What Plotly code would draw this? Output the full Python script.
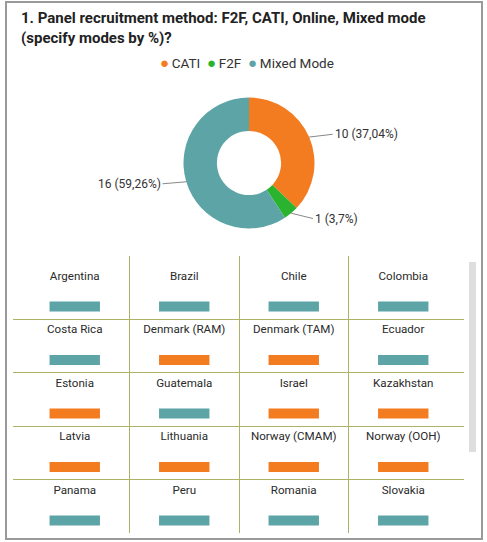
import math
import plotly.graph_objects as go

# ---------------- data ----------------
modes = ["CATI", "F2F", "Mixed Mode"]
mode_counts = [10, 1, 16]
mode_colors = ["#F47C20", "#2AB32E", "#5DA4A6"]

countries = [
    "Argentina", "Brazil", "Chile", "Colombia",
    "Costa Rica", "Denmark (RAM)", "Denmark (TAM)", "Ecuador",
    "Estonia", "Guatemala", "Israel", "Kazakhstan",
    "Latvia", "Lithuania", "Norway (CMAM)", "Norway (OOH)",
    "Panama", "Peru", "Romania", "Slovakia",
]
country_modes = [
    "Mixed Mode", "Mixed Mode", "Mixed Mode", "Mixed Mode",
    "Mixed Mode", "CATI", "CATI", "Mixed Mode",
    "CATI", "Mixed Mode", "CATI", "CATI",
    "CATI", "CATI", "CATI", "CATI",
    "Mixed Mode", "Mixed Mode", "Mixed Mode", "Mixed Mode",
]

title_text = "1. Panel recruitment method: F2F, CATI, Online, Mixed mode<br>(specify modes by %)?"

W, H = 487, 542
FONT = "Roboto"
TXT = "#333333"
GRID = "#AEB266"
n_cols = 4

fig = go.Figure()

# ---------------- donut ----------------
cx, cy, R = 249, 163, 65.5
fig.add_trace(go.Pie(
    labels=modes, values=mode_counts, hole=0.49, sort=False, direction="clockwise",
    rotation=0, marker=dict(colors=mode_colors, line=dict(width=0)),
    textinfo="none", hoverinfo="label+value+percent", showlegend=False,
    domain=dict(x=[(cx - R) / W, (cx + R) / W], y=[1 - (cy + R) / H, 1 - (cy - R) / H]),
))

total = sum(mode_counts)
cum = 0
for m, v in zip(modes, mode_counts):
    mid = (cum + v / 2) / total * 2 * math.pi
    cum += v
    dx, dy = math.sin(mid), -math.cos(mid)
    px, py = cx + R * dx, cy + R * dy
    side = 1 if dx >= 0 else -1
    pct = f"{v / total * 100:.2f}".rstrip("0").rstrip(".").replace(".", ",")
    fig.add_annotation(
        x=px / W, y=1 - py / H, xref="paper", yref="paper",
        text=f"{v} ({pct}%)", showarrow=True, arrowhead=0, arrowwidth=1,
        arrowcolor="#888888", ax=side * 18 + dx * 6, ay=dy * 7,
        xanchor="left" if side > 0 else "right", yanchor="middle",
        font=dict(family=FONT, size=12, color=TXT), standoff=0, startstandoff=0,
    )

# legend (compact, circle symbols)
legend_html = "&nbsp;&nbsp;".join(
    f"<span style='color:{c};font-size:15px'>●</span>&#8201;{m}" for m, c in zip(modes, mode_colors)
)
fig.add_annotation(x=247 / W, y=1 - 63 / H, xref="paper", yref="paper", showarrow=False,
                   text=legend_html, xanchor="center", yanchor="middle",
                   font=dict(family=FONT, size=13.5, color=TXT))

# title
fig.add_annotation(x=19 / W, y=1 - 7 / H, xref="paper", yref="paper", showarrow=False,
                   text=title_text, xanchor="left", yanchor="top", align="left",
                   font=dict(family=FONT, size=15, color="#222222", weight="bold"))

# ---------------- table grid ----------------
col_idx = [i % n_cols for i in range(len(countries))]
row_idx = [i // n_cols for i in range(len(countries))]
color_map = dict(zip(modes, mode_colors))

fig.add_trace(go.Scatter(
    x=[c + 0.5 for c in col_idx], y=[r + 0.215 for r in row_idx],
    mode="text", text=countries, textposition="middle center",
    textfont=dict(family=FONT, size=11.6, color="#2a2a2a"), hoverinfo="skip", showlegend=False,
))
fig.add_trace(go.Scatter(
    x=[c + 0.5 for c in col_idx], y=[r + 0.766 for r in row_idx],
    mode="markers", hovertext=[f"{c}: {m}" for c, m in zip(countries, country_modes)],
    hoverinfo="text",
    marker=dict(symbol="line-ew", size=36,
                line=dict(width=10, color=[color_map[m] for m in country_modes])),
    showlegend=False,
))

x_px0, x_px1 = 13, 464
unit_x = 109.5
y_px0, y_px1 = 256, 533
row_top, unit_y = 265.5, 53.5
fig.update_layout(
    xaxis=dict(domain=[x_px0 / W, x_px1 / W],
               range=[-(20 - x_px0) / unit_x, n_cols + (x_px1 - 458) / unit_x],
               tickvals=[1, 2, 3], showticklabels=False, showgrid=True, gridcolor=GRID,
               gridwidth=1, zeroline=False, showline=False, fixedrange=True),
    yaxis=dict(domain=[1 - y_px1 / H, 1 - y_px0 / H],
               range=[5, (y_px0 - row_top) / unit_y],
               tickvals=[1, 2, 3, 4], showticklabels=False, showgrid=True, gridcolor=GRID,
               gridwidth=1, zeroline=False, showline=False, fixedrange=True),
)

# scrollbar & frame (decorative)
fig.add_shape(type="rect", xref="paper", yref="paper", x0=469 / W, x1=476 / W,
              y0=1 - 452 / H, y1=1 - 262 / H, fillcolor="#DEDEDE", line=dict(width=0), layer="below")
fig.add_shape(type="rect", xref="paper", yref="paper", x0=6 / W, x1=482 / W,
              y0=1 - 539 / H, y1=1 - 2 / H, line=dict(color="#9A9A9A", width=2))

fig.update_layout(
    width=W, height=H, margin=dict(l=0, r=0, t=0, b=0),
    paper_bgcolor="white", plot_bgcolor="rgba(0,0,0,0)", showlegend=False,
)

fig.write_html(
    "out.html",
    config={"displayModeBar": False},
    post_script="document.body.style.margin='0';document.body.style.overflow='hidden';",
)
